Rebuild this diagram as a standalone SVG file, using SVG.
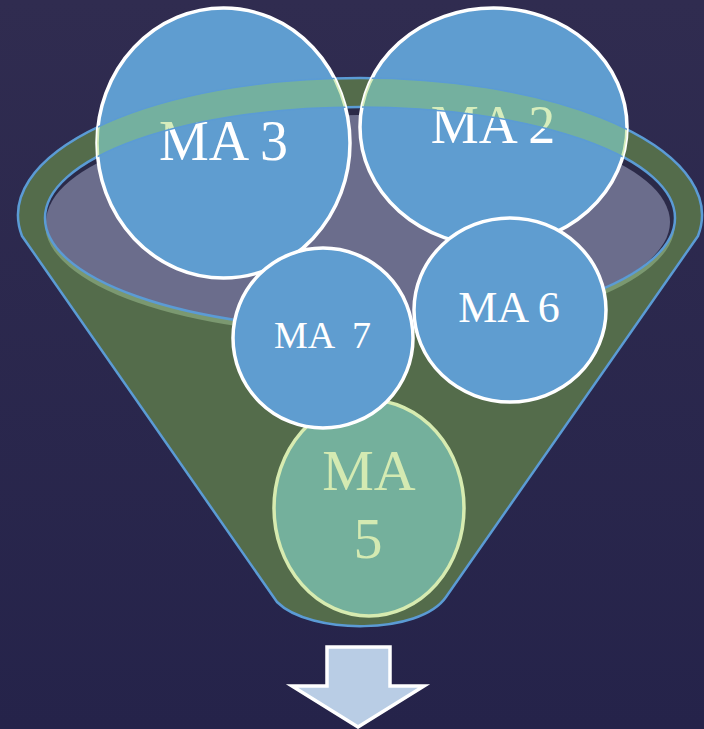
<svg xmlns="http://www.w3.org/2000/svg" width="704" height="729" viewBox="0 0 704 729">
  <defs>
    <linearGradient id="bg" x1="0" y1="0" x2="0" y2="1">
      <stop offset="0" stop-color="#302c50"/>
      <stop offset="1" stop-color="#25234a"/>
    </linearGradient>
    <clipPath id="innerClip">
      <ellipse cx="360" cy="218" rx="315" ry="111"/>
    </clipPath>
    <clipPath id="topCircles">
      <ellipse cx="223.5" cy="143" rx="126.5" ry="135"/>
      <ellipse cx="493.5" cy="127" rx="133.5" ry="119"/>
    </clipPath>
    <style>
      .circ { fill: #5f9dd0; stroke: #ffffff; stroke-width: 3.5; }
      .lbl { font-family: "Liberation Serif", "Times New Roman", serif; fill: #ffffff; text-anchor: middle; }
      .rimline { fill: none; stroke: #5b9bd5; stroke-width: 2.5; }
    </style>
  </defs>

  <rect x="0" y="0" width="704" height="729" fill="url(#bg)"/>

  <g id="funnel">
    <path d="M 22 236 A 342 137 0 1 1 698 236 L 446 597 C 420 635 310 635 277 602 Z" fill="#546c4b" stroke="#5b9bd5" stroke-width="2.5" stroke-linejoin="round"/>
    <ellipse cx="360" cy="224" rx="315" ry="111" fill="#7b9870"/>
    <ellipse cx="360" cy="218" rx="315" ry="111" fill="#2b2a48"/>
    <ellipse cx="358" cy="222" rx="312" ry="107" fill="#6b6d8c" clip-path="url(#innerClip)"/>
    <ellipse cx="360" cy="218" rx="315" ry="111" class="rimline"/>
  </g>

  <g id="ma3">
    <ellipse class="circ" cx="223.5" cy="143" rx="126.5" ry="135"/>
    <text class="lbl" x="223.5" y="160" font-size="56">MA 3</text>
  </g>

  <g id="ma2">
    <ellipse class="circ" cx="493.5" cy="127" rx="133.5" ry="119"/>
    <text class="lbl" x="493" y="143" font-size="54">MA 2</text>
  </g>

  <g id="rim-band">
    <path clip-path="url(#topCircles)" fill-rule="evenodd" fill="#97d050" fill-opacity="0.38" stroke="#5b9bd5" stroke-width="1.5"
      d="M 18 215 A 342 137 0 1 1 702 215 A 342 137 0 1 1 18 215 Z M 45 218 A 315 111 0 1 0 675 218 A 315 111 0 1 0 45 218 Z"/>
  </g>

  <g id="ma5">
    <ellipse cx="369" cy="508" rx="95" ry="108" fill="#74b09c" stroke="#d7ebb0" stroke-width="3.5"/>
    <text class="lbl" x="369" y="490" font-size="58" style="fill:#d4eab2">MA</text>
    <text class="lbl" x="368" y="558" font-size="58" style="fill:#d4eab2">5</text>
  </g>

  <g id="ma7">
    <ellipse class="circ" cx="323" cy="338" rx="90" ry="90"/>
    <text class="lbl" x="322.5" y="348" font-size="38" xml:space="preserve" style="white-space:pre">MA  7</text>
  </g>

  <g id="ma6">
    <ellipse class="circ" cx="510" cy="310" rx="96" ry="92"/>
    <text class="lbl" x="509" y="322" font-size="44">MA 6</text>
  </g>

  <g id="arrow-down">
    <polygon points="327,647 390,647 390,686 424,686 358,727 292,686 327,686" fill="#b9cde5" stroke="#ffffff" stroke-width="3.5" stroke-linejoin="miter"/>
  </g>
</svg>
